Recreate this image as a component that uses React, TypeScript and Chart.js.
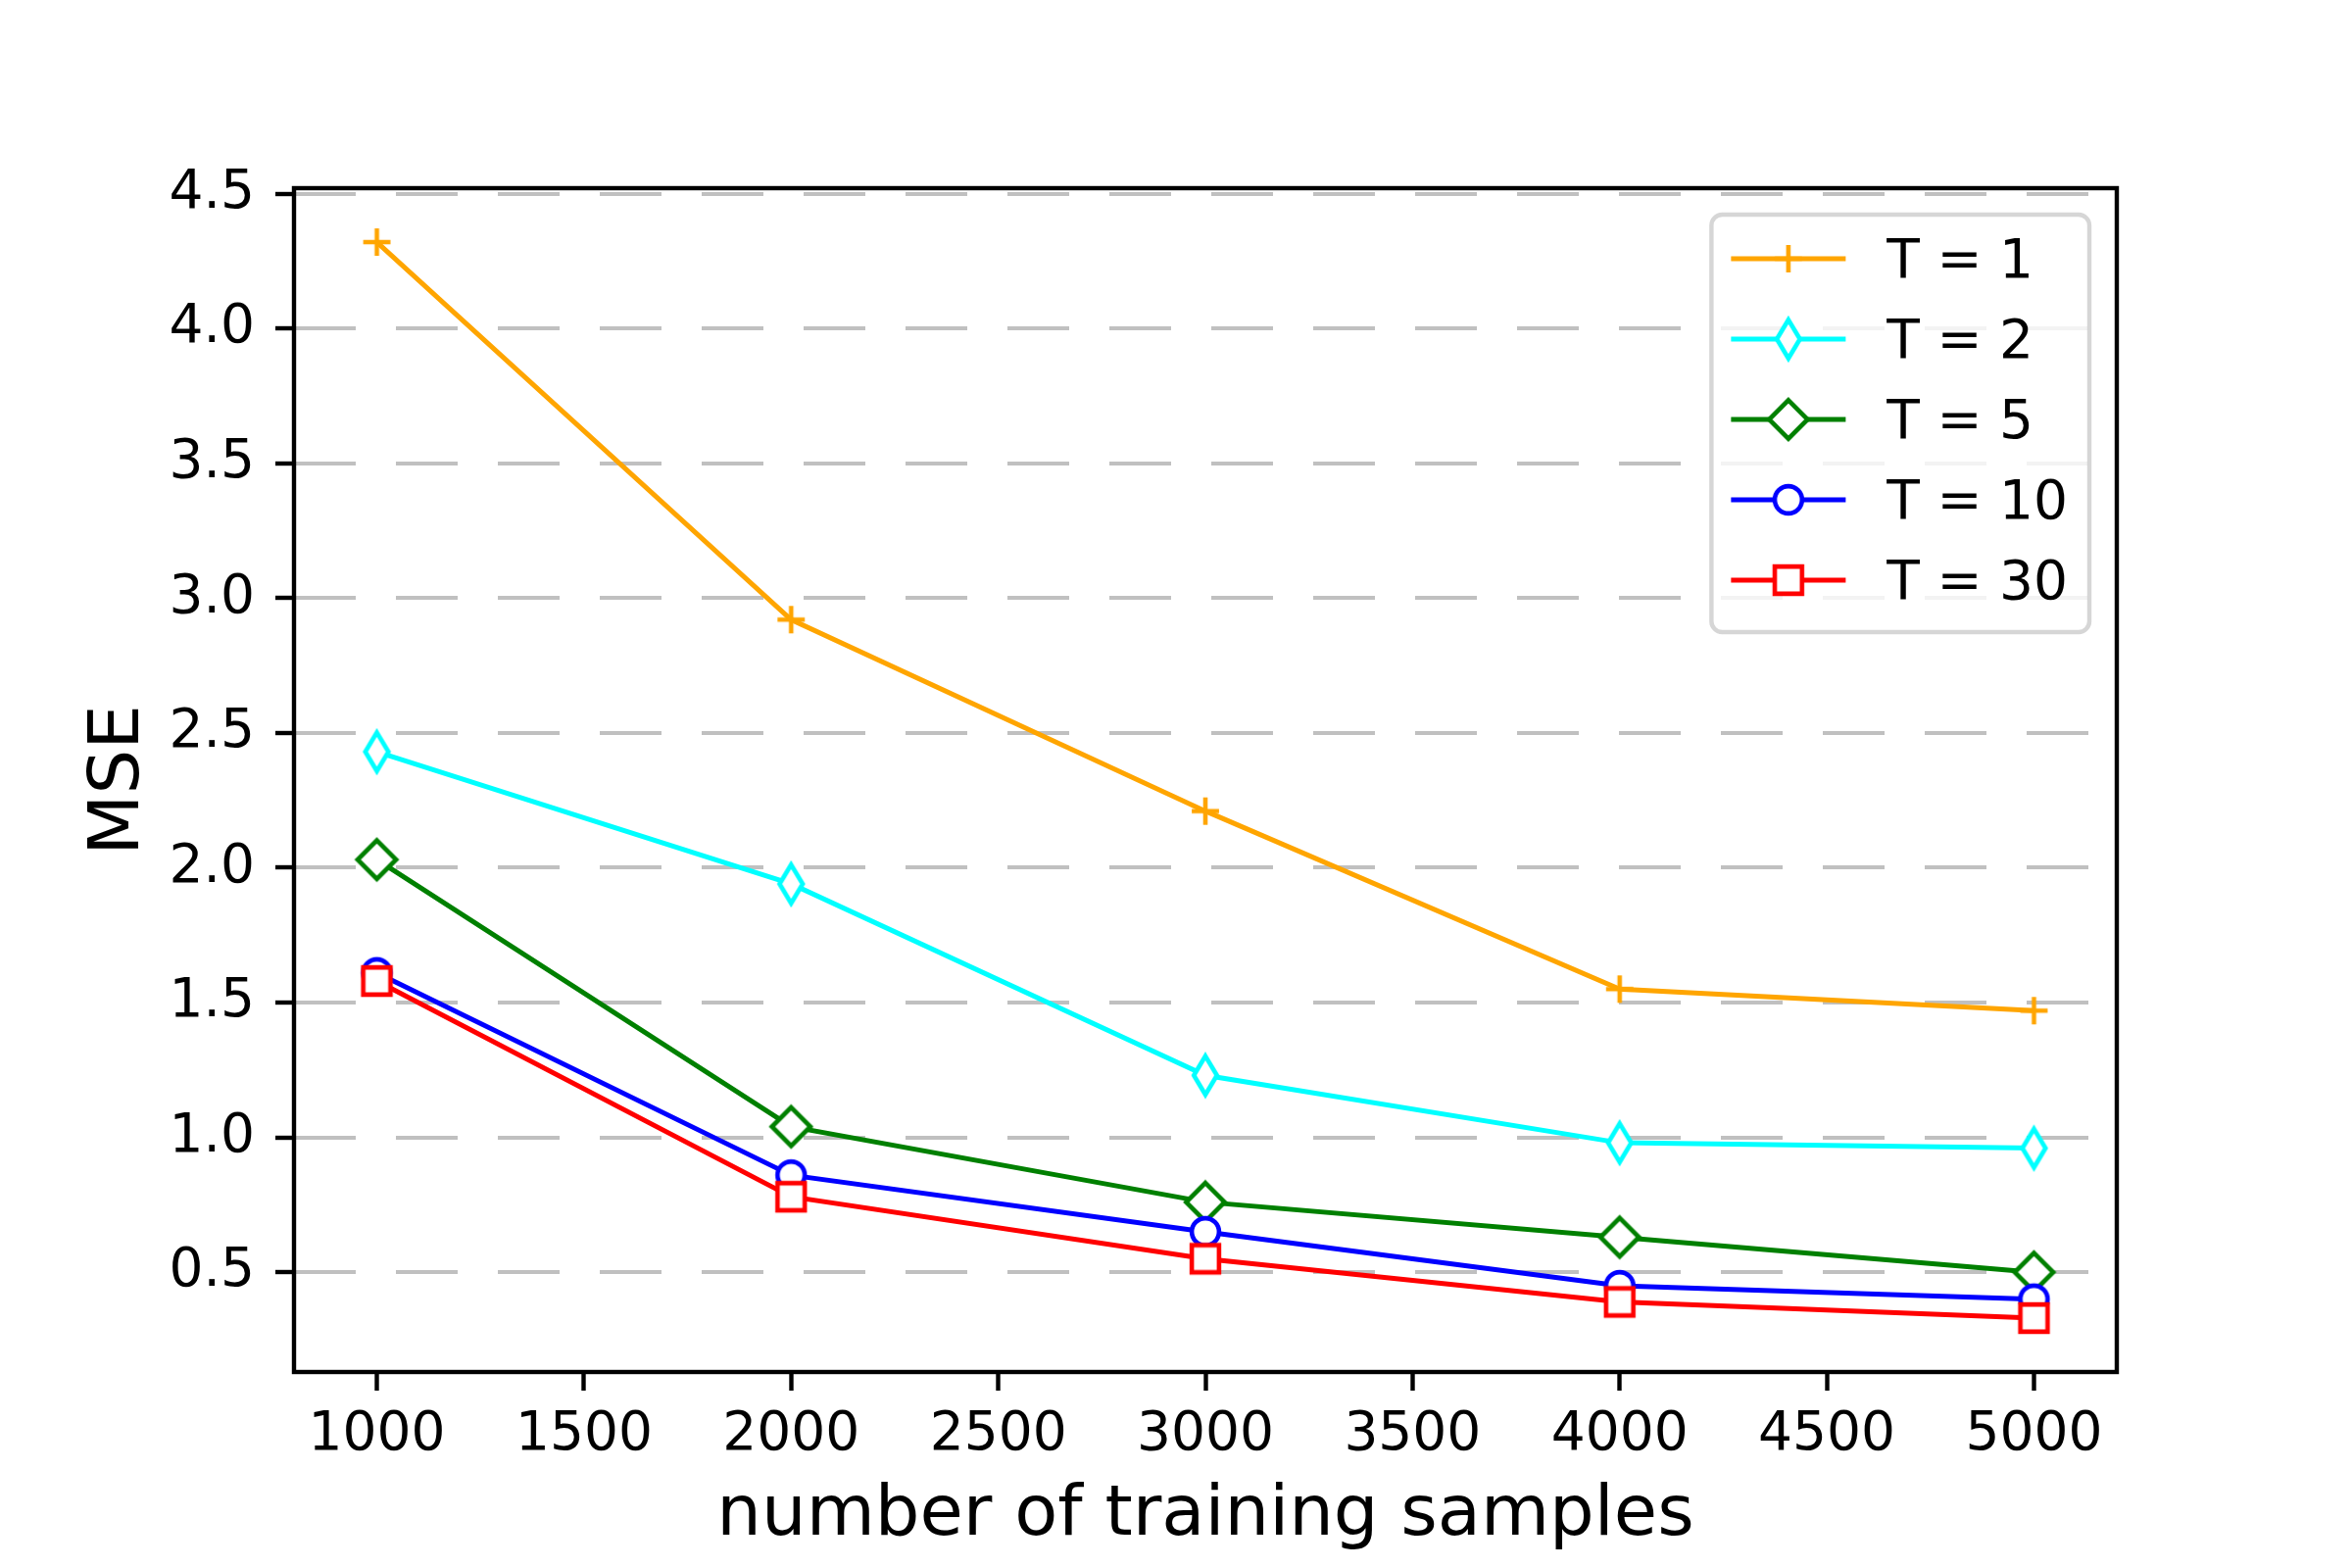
import React, { useEffect, useRef } from 'react';
import { Chart, registerables } from 'chart.js';

Chart.register(...registerables);

// values
const samples = [1000, 2000, 3000, 4000, 5000];
const mseT1 = [4.32, 2.92, 2.21, 1.55, 1.47];
const mseT2 = [2.43, 1.94, 1.23, 0.98, 0.96];
const mseT5 = [2.03, 1.04, 0.76, 0.63, 0.5];
const mseT10 = [1.61, 0.86, 0.65, 0.45, 0.4];
const mseT30 = [1.58, 0.78, 0.55, 0.39, 0.33];

const seriesLabels = ['T = 1', 'T = 2', 'T = 5', 'T = 10', 'T = 30'];
const seriesColors = ['#ffa500', '#00ffff', '#008000', '#0000ff', '#ff0000'];
const seriesMarkers = ['plus', 'thinDiamond', 'diamond', 'circle', 'square'];

const xTicks = [1000, 1500, 2000, 2500, 3000, 3500, 4000, 4500, 5000];
const yTicks = [0.5, 1.0, 1.5, 2.0, 2.5, 3.0, 3.5, 4.0, 4.5];

const FONT = '"DejaVu Sans", "Liberation Sans", sans-serif';

// matplotlib-like marker drawn once on a small canvas
const makeMarker = (kind: string, color: string): HTMLCanvasElement => {
  const c = document.createElement('canvas');
  c.width = 64;
  c.height = 64;
  const g = c.getContext('2d') as CanvasRenderingContext2D;
  g.translate(32, 32);
  g.strokeStyle = color;
  g.fillStyle = '#ffffff';
  g.lineWidth = 4.6;
  g.lineJoin = 'miter';
  const s = 13.9;
  const d = s * Math.SQRT2;
  g.beginPath();
  if (kind === 'plus') {
    g.moveTo(-s, 0);
    g.lineTo(s, 0);
    g.moveTo(0, -s);
    g.lineTo(0, s);
    g.stroke();
    return c;
  }
  if (kind === 'circle') {
    g.arc(0, 0, s, 0, Math.PI * 2);
  } else if (kind === 'square') {
    g.rect(-s, -s, 2 * s, 2 * s);
  } else if (kind === 'diamond') {
    g.moveTo(0, -d);
    g.lineTo(d, 0);
    g.lineTo(0, d);
    g.lineTo(-d, 0);
    g.closePath();
  } else {
    const w = d * 0.6;
    g.moveTo(0, -d);
    g.lineTo(w, 0);
    g.lineTo(0, d);
    g.lineTo(-w, 0);
    g.closePath();
  }
  g.fill();
  g.stroke();
  return c;
};

const framePlugin = {
  id: 'frame',
  afterDatasetsDraw(chart: any) {
    const { ctx, chartArea } = chart;
    ctx.save();
    ctx.strokeStyle = '#000000';
    ctx.lineWidth = 4.4;
    ctx.strokeRect(chartArea.left, chartArea.top, chartArea.right - chartArea.left, chartArea.bottom - chartArea.top);
    ctx.restore();
  },
};

const legendPlugin = {
  id: 'mplLegend',
  afterDraw(chart: any) {
    const { ctx, chartArea } = chart;
    ctx.save();
    ctx.font = `55px ${FONT}`;
    const datasets = chart.data.datasets;
    const textW = Math.max(...datasets.map((ds: any) => ctx.measureText(ds.label).width));
    const boxW = 20 + 117 + 42 + textW + 22;
    const boxH = 426;
    const right = chartArea.right - 28;
    const top = chartArea.top + 27;
    const left = right - boxW;

    ctx.beginPath();
    ctx.roundRect(left, top, boxW, boxH, 11);
    ctx.fillStyle = 'rgba(255,255,255,0.8)';
    ctx.fill();
    ctx.strokeStyle = 'rgba(204,204,204,0.8)';
    ctx.lineWidth = 4.4;
    ctx.stroke();

    datasets.forEach((ds: any, i: number) => {
      const cy = top + 45 + i * 82;
      const x0 = left + 20;
      ctx.beginPath();
      ctx.moveTo(x0, cy);
      ctx.lineTo(x0 + 117, cy);
      ctx.strokeStyle = ds.borderColor;
      ctx.lineWidth = ds.borderWidth;
      ctx.stroke();
      const img = ds.pointStyle as HTMLCanvasElement;
      ctx.drawImage(img, x0 + 58.5 - img.width / 2, cy - img.height / 2);
      ctx.fillStyle = '#000000';
      ctx.textAlign = 'left';
      ctx.textBaseline = 'alphabetic';
      ctx.fillText(ds.label, left + 179, cy + 19);
    });
    ctx.restore();
  },
};

const MseChart = () => {
  const canvasRef = useRef<HTMLCanvasElement>(null);

  useEffect(() => {
    document.body.style.margin = '0';
    const canvas = canvasRef.current;
    let chart: Chart | null = null;
    const series = [mseT1, mseT2, mseT5, mseT10, mseT30];

    if (canvas) {
      chart = new Chart(canvas, {
        type: 'line',
        data: {
          datasets: series.map((vals, i) => ({
            label: seriesLabels[i],
            data: samples.map((x, j) => ({ x, y: vals[j] })),
            borderColor: seriesColors[i],
            backgroundColor: '#ffffff',
            borderWidth: 5,
            pointStyle: makeMarker(seriesMarkers[i], seriesColors[i]),
            pointRadius: 14,
            pointHoverRadius: 14,
            tension: 0,
            fill: false,
            order: series.length - 1 - i,
          })),
        },
        plugins: [framePlugin, legendPlugin],
        options: {
          responsive: false,
          devicePixelRatio: 1,
          animation: false,
          events: [],
          layout: { padding: { top: 192, right: 240, left: 0, bottom: 0 } },
          font: { family: FONT },
          plugins: {
            legend: { display: false },
            tooltip: { enabled: false },
          },
          scales: {
            x: {
              type: 'linear',
              min: 800,
              max: 5200,
              afterFit: (scale: any) => {
                scale.height = 200;
              },
              afterBuildTicks: (scale: any) => {
                scale.ticks = xTicks.map((value) => ({ value }));
              },
              grid: {
                drawOnChartArea: false,
                drawTicks: true,
                tickLength: 19,
                tickWidth: 4.4,
                tickColor: '#000000',
              },
              border: { display: false },
              ticks: {
                color: '#000000',
                font: { family: FONT, size: 55 },
                padding: 13,
                maxRotation: 0,
                autoSkip: false,
                callback: (v: any) => String(v),
              },
              title: {
                display: true,
                text: 'number of training samples',
                color: '#000000',
                font: { family: FONT, size: 72 },
                padding: { top: 0, bottom: 10 },
              },
            },
            y: {
              type: 'linear',
              min: 0.13,
              max: 4.52,
              afterFit: (scale: any) => {
                scale.width = 300;
              },
              afterBuildTicks: (scale: any) => {
                scale.ticks = yTicks.map((value) => ({ value }));
              },
              grid: {
                color: '#c0c0c0',
                lineWidth: 4,
                drawOnChartArea: true,
                drawTicks: true,
                tickLength: 19,
                tickWidth: 4.4,
                tickColor: '#000000',
                tickBorderDash: [],
              },
              border: { display: false, dash: [63, 41] },
              ticks: {
                color: '#000000',
                font: { family: FONT, size: 55 },
                padding: 21,
                autoSkip: false,
                callback: (v: any) => Number(v).toFixed(1),
              },
              title: {
                display: true,
                text: 'MSE',
                color: '#000000',
                font: { family: FONT, size: 72 },
                padding: { top: 79, bottom: 0 },
              },
            },
          },
        },
      } as any);
    }

    return () => {
      if (chart) {
        chart.destroy();
      }
    };
  }, []);

  return (
    <div style={{ width: 2400, height: 1600, background: '#ffffff' }}>
      <canvas ref={canvasRef} width={2400} height={1600} style={{ display: 'block', width: 2400, height: 1600 }}></canvas>
    </div>
  );
};

export default function App() {
  return <MseChart />;
}
